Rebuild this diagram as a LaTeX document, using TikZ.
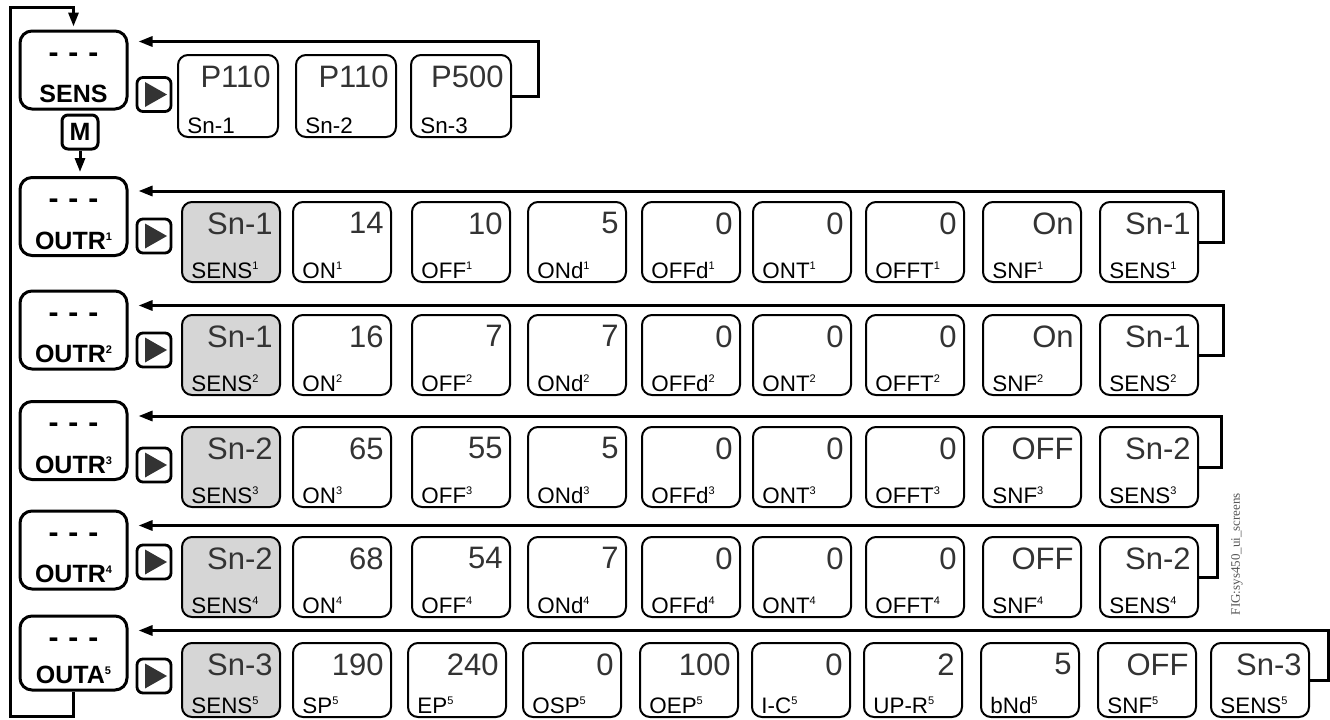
\documentclass[tikz,border=0pt]{standalone}
\usepackage{fontspec}
\setmainfont{Liberation Sans}
\newfontfamily\figfont{Liberation Serif}
\usetikzlibrary{arrows.meta}

\definecolor{selgray}{HTML}{D6D6D6}
\definecolor{valgray}{HTML}{333333}
\definecolor{figgray}{HTML}{555555}
\newcommand{\ix}[1]{\raisebox{0.36em}{\fontsize{5.5}{5.5}\selectfont #1}}

\begin{document}
\begin{tikzpicture}[x=0.5pt,y=-0.5pt]

		\tikzset{
			menu/.style={
				draw,
				line width=1.5pt,
				rounded corners=6pt,
				minimum width=53.5pt,
				minimum height=39pt,
				inner sep=0pt
			},
			scr/.style={
				draw,
				line width=1pt,
				rounded corners=5pt,
				minimum width=49pt,
				minimum height=40pt,
				inner sep=0pt
			},
			sel/.style={scr,fill=selgray},
			val/.style={anchor=north east,inner sep=0pt,xshift=-4pt,yshift=-5.5pt,
				text=valgray,font=\fontsize{15.5}{15.5}\selectfont},
			lab/.style={anchor=base west,inner sep=0pt,xshift=5pt,yshift=2.5pt,
				font=\fontsize{11.2}{11.2}\selectfont},
			dsh/.style={anchor=center,inner sep=0pt,yshift=-14pt,
				font=\bfseries\fontsize{15}{15}\selectfont},
			mlab/.style={anchor=base,inner sep=0pt,yshift=4pt,
				font=\bfseries\fontsize{12.5}{12.5}\selectfont},
			btn/.style={
				draw,
				line width=1.4pt,
				rounded corners=3pt,
				minimum width=17pt,
				minimum height=17pt,
				inner sep=0pt,
				path picture={\fill[black!80,sharp corners]
					([shift={(-4.5pt,6.25pt)}]path picture bounding box.center)
					-- ++(11pt,-6.25pt) -- ++(-11pt,-6.25pt) -- cycle;}
			},
			mkey/.style={draw,line width=1.5pt,rounded corners=3pt,minimum width=18pt,
				minimum height=17pt,inner sep=0pt,font=\bfseries\fontsize{12.5}{12.5}\selectfont},
			fb/.style={line width=1.5pt,-{Triangle[length=7pt,width=5pt]}}
		}

		\useasboundingbox (0,0) rectangle (1330,719);

		% menu column
		\node[menu,label={[dsh]north:-\hspace{5pt}-\hspace{5pt}-},label={[mlab]south:SENS}] (sens) at (73.5,70) {};
		\node[menu,label={[dsh]north:-\hspace{5pt}-\hspace{5pt}-},label={[mlab]south:OUTR\ix{1}}] (outr1) at (73.5,216.5) {};
		\node[menu,label={[dsh]north:-\hspace{5pt}-\hspace{5pt}-},label={[mlab]south:OUTR\ix{2}}] (outr2) at (73.5,330) {};
		\node[menu,label={[dsh]north:-\hspace{5pt}-\hspace{5pt}-},label={[mlab]south:OUTR\ix{3}}] (outr3) at (73.5,440.5) {};
		\node[menu,label={[dsh]north:-\hspace{5pt}-\hspace{5pt}-},label={[mlab]south:OUTR\ix{4}}] (outr4) at (73.5,550) {};
		\node[menu,minimum height=37pt,label={[dsh]north:-\hspace{5pt}-\hspace{5pt}-},label={[mlab]south:OUTA\ix{5}}] (outa5) at (73.5,653) {};

		\node[mkey] (mk) at (80,132) {M};

		% keys
		\node[btn] (b0) at (154,94.5) {};
		\node[btn] (b1) at (154,236) {};
		\node[btn] (b2) at (154,350) {};
		\node[btn] (b3) at (154,465) {};
		\node[btn] (b4) at (154,562) {};
		\node[btn] (b5) at (154,676) {};

		% sensor screens
		\node[scr,minimum width=50pt,minimum height=41pt,label={[val]north east:P110},label={[lab]south west:Sn-1}] (r0c1) at (228,96) {};
		\node[scr,minimum width=50pt,minimum height=41pt,label={[val]north east:P110},label={[lab]south west:Sn-2}] (r0c2) at (346,96) {};
		\node[scr,minimum width=50pt,minimum height=41pt,label={[val]north east:P500},label={[lab]south west:Sn-3}] (r0c3) at (461,96) {};

		% output 1
		\node[sel,label={[val]north east:Sn-1},label={[lab]south west:SENS\ix{1}}] (r1c1) at (231,242) {};
		\node[scr,label={[val]north east:14},label={[lab]south west:ON\ix{1}}] (r1c2) at (342,242) {};
		\node[scr,label={[val]north east:10},label={[lab]south west:OFF\ix{1}}] (r1c3) at (461,242) {};
		\node[scr,label={[val]north east:5},label={[lab]south west:ONd\ix{1}}] (r1c4) at (577,242) {};
		\node[scr,label={[val]north east:0},label={[lab]south west:OFFd\ix{1}}] (r1c5) at (691,242) {};
		\node[scr,label={[val]north east:0},label={[lab]south west:ONT\ix{1}}] (r1c6) at (802,242) {};
		\node[scr,label={[val]north east:0},label={[lab]south west:OFFT\ix{1}}] (r1c7) at (915,242) {};
		\node[scr,label={[val]north east:On},label={[lab]south west:SNF\ix{1}}] (r1c8) at (1032,242) {};
		\node[scr,label={[val]north east:Sn-1},label={[lab]south west:SENS\ix{1}}] (r1c9) at (1149,242) {};

		% output 2
		\node[sel,label={[val]north east:Sn-1},label={[lab]south west:SENS\ix{2}}] (r2c1) at (231,355) {};
		\node[scr,label={[val]north east:16},label={[lab]south west:ON\ix{2}}] (r2c2) at (342,355) {};
		\node[scr,label={[val]north east:7},label={[lab]south west:OFF\ix{2}}] (r2c3) at (461,355) {};
		\node[scr,label={[val]north east:7},label={[lab]south west:ONd\ix{2}}] (r2c4) at (577,355) {};
		\node[scr,label={[val]north east:0},label={[lab]south west:OFFd\ix{2}}] (r2c5) at (691,355) {};
		\node[scr,label={[val]north east:0},label={[lab]south west:ONT\ix{2}}] (r2c6) at (802,355) {};
		\node[scr,label={[val]north east:0},label={[lab]south west:OFFT\ix{2}}] (r2c7) at (915,355) {};
		\node[scr,label={[val]north east:On},label={[lab]south west:SNF\ix{2}}] (r2c8) at (1032,355) {};
		\node[scr,label={[val]north east:Sn-1},label={[lab]south west:SENS\ix{2}}] (r2c9) at (1149,355) {};

		% output 3
		\node[sel,label={[val]north east:Sn-2},label={[lab]south west:SENS\ix{3}}] (r3c1) at (231,467) {};
		\node[scr,label={[val]north east:65},label={[lab]south west:ON\ix{3}}] (r3c2) at (342,467) {};
		\node[scr,label={[val]north east:55},label={[lab]south west:OFF\ix{3}}] (r3c3) at (461,467) {};
		\node[scr,label={[val]north east:5},label={[lab]south west:ONd\ix{3}}] (r3c4) at (577,467) {};
		\node[scr,label={[val]north east:0},label={[lab]south west:OFFd\ix{3}}] (r3c5) at (691,467) {};
		\node[scr,label={[val]north east:0},label={[lab]south west:ONT\ix{3}}] (r3c6) at (802,467) {};
		\node[scr,label={[val]north east:0},label={[lab]south west:OFFT\ix{3}}] (r3c7) at (915,467) {};
		\node[scr,label={[val]north east:OFF},label={[lab]south west:SNF\ix{3}}] (r3c8) at (1032,467) {};
		\node[scr,label={[val]north east:Sn-2},label={[lab]south west:SENS\ix{3}}] (r3c9) at (1149,467) {};

		% output 4
		\node[sel,label={[val]north east:Sn-2},label={[lab]south west:SENS\ix{4}}] (r4c1) at (231,577) {};
		\node[scr,label={[val]north east:68},label={[lab]south west:ON\ix{4}}] (r4c2) at (342,577) {};
		\node[scr,label={[val]north east:54},label={[lab]south west:OFF\ix{4}}] (r4c3) at (461,577) {};
		\node[scr,label={[val]north east:7},label={[lab]south west:ONd\ix{4}}] (r4c4) at (577,577) {};
		\node[scr,label={[val]north east:0},label={[lab]south west:OFFd\ix{4}}] (r4c5) at (691,577) {};
		\node[scr,label={[val]north east:0},label={[lab]south west:ONT\ix{4}}] (r4c6) at (802,577) {};
		\node[scr,label={[val]north east:0},label={[lab]south west:OFFT\ix{4}}] (r4c7) at (915,577) {};
		\node[scr,label={[val]north east:OFF},label={[lab]south west:SNF\ix{4}}] (r4c8) at (1032,577) {};
		\node[scr,label={[val]north east:Sn-2},label={[lab]south west:SENS\ix{4}}] (r4c9) at (1149,577) {};

		% analog output 5
		\node[sel,minimum height=37pt,label={[val]north east:Sn-3},label={[lab]south west:SENS\ix{5}}] (r5c1) at (231,680) {};
		\node[scr,minimum height=37pt,label={[val]north east:190},label={[lab]south west:SP\ix{5}}] (r5c2) at (342,680) {};
		\node[scr,minimum height=37pt,label={[val]north east:240},label={[lab]south west:EP\ix{5}}] (r5c3) at (457,680) {};
		\node[scr,minimum height=37pt,label={[val]north east:0},label={[lab]south west:OSP\ix{5}}] (r5c4) at (572,680) {};
		\node[scr,minimum height=37pt,label={[val]north east:100},label={[lab]south west:OEP\ix{5}}] (r5c5) at (689,680) {};
		\node[scr,minimum height=37pt,label={[val]north east:0},label={[lab]south west:I-C\ix{5}}] (r5c6) at (801,680) {};
		\node[scr,minimum height=37pt,label={[val]north east:2},label={[lab]south west:UP-R\ix{5}}] (r5c7) at (913,680) {};
		\node[scr,minimum height=37pt,label={[val]north east:5},label={[lab]south west:bNd\ix{5}}] (r5c8) at (1030,680) {};
		\node[scr,minimum height=37pt,label={[val]north east:OFF},label={[lab]south west:SNF\ix{5}}] (r5c9) at (1147,680) {};
		\node[scr,minimum height=37pt,label={[val]north east:Sn-3},label={[lab]south west:SENS\ix{5}}] (r5c10) at (1260,680) {};

		% return paths
		\draw[fb] (r0c3.east) -- ++(26,0) |- ([shift={(10,12)}]sens.north east);
		\draw[fb] (r1c9.east) -- ++(24,0) |- ([shift={(10,15)}]outr1.north east);
		\draw[fb] (r2c9.east) -- ++(24,0) |- ([shift={(10,16)}]outr2.north east);
		\draw[fb] (r3c9.east) -- ++(22,0) |- ([shift={(10,16)}]outr3.north east);
		\draw[fb] (r4c9.east) -- ++(18,0) |- ([shift={(10,16)}]outr4.north east);
		\draw[fb] (r5c10.east) -- ++(18,0) |- ([shift={(10,16)}]outa5.north east);

		\draw[fb,shorten >=2pt] (mk.south) -- (mk.south |- outr1.north);
		\draw[fb,shorten >=1.5pt] (outa5.south) |- (10,716) -- (10,7) -| (sens.north);

		\node[rotate=90,text=figgray,font=\figfont\fontsize{6.5}{6.5}\selectfont] (fig) at (1237,554) {FIG:sys450\_ui\_screens};

	\end{tikzpicture}
\end{document}
